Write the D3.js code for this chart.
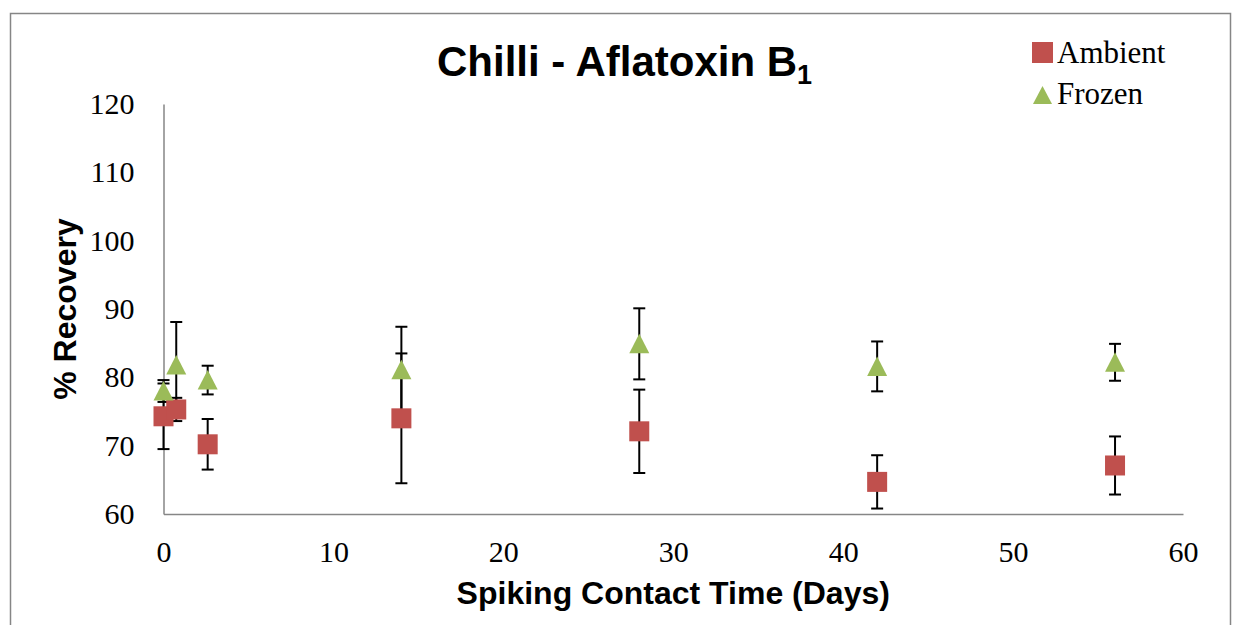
<!DOCTYPE html>
<html>
<head>
<meta charset="utf-8">
<script src="https://cdn.jsdelivr.net/npm/d3@7"></script>
<style>
  html, body { margin: 0; padding: 0; background: #fff; }
  svg { display: block; }
</style>
</head>
<body>
<script>
  const days = [0, 0.75, 2.6, 14, 28, 42, 56];
  const ambient = [74.3, 75.3, 70.2, 74.0, 72.1, 64.7, 67.1];
  const ambientErr = [4.8, 1.7, 3.7, 9.5, 6.1, 3.9, 4.25];
  const frozen = [78.0, 81.8, 79.6, 81.1, 84.9, 81.6, 82.2];
  const frozenErr = [1.6, 6.3, 2.1, 6.3, 5.2, 3.65, 2.7];
  const xTicks = [0, 10, 20, 30, 40, 50, 60];
  const yTicks = [60, 70, 80, 90, 100, 110, 120];

  const width = 1234;
  const height = 625;
  const serif = '"Liberation Serif", "Times New Roman", serif';
  const sans = '"Liberation Sans", Arial, sans-serif';
  const axisGrey = '#868686';

  const svg = d3.select('body')
    .append('svg')
    .attr('width', width)
    .attr('height', height);

  // outer chart frame
  svg.append('rect')
    .attr('x', 10.5)
    .attr('y', 13.5)
    .attr('width', 1220)
    .attr('height', 700)
    .attr('fill', 'none')
    .attr('stroke', axisGrey)
    .attr('stroke-width', 1.5);

  const x = d3.scaleLinear().domain([0, 60]).range([163.5, 1183]);
  const y = d3.scaleLinear().domain([60, 120]).range([514, 104]);

  const xAxis = svg.append('g')
    .attr('transform', `translate(0, ${y(60)})`)
    .call(d3.axisBottom(x).tickValues(xTicks).tickSize(0).tickSizeOuter(0));
  xAxis.select('.domain').attr('stroke', axisGrey).attr('stroke-width', 1.5);
  xAxis.selectAll('text')
    .attr('y', 48).attr('dy', null)
    .attr('font-family', serif).attr('font-size', 30).attr('fill', '#000');

  const yAxis = svg.append('g')
    .attr('transform', `translate(${x(0)}, 0)`)
    .call(d3.axisLeft(y).tickValues(yTicks).tickSize(0).tickSizeOuter(0));
  yAxis.select('.domain').attr('stroke', axisGrey).attr('stroke-width', 1.5);
  yAxis.selectAll('text')
    .attr('x', -29)
    .attr('font-family', serif).attr('font-size', 30).attr('fill', '#000');

  // error bars
  function errorBars(vals, errs) {
    const g = svg.append('g').attr('stroke', '#000').attr('stroke-width', 2);
    days.forEach((d, i) => {
      const cx = x(d);
      const y0 = y(vals[i] - errs[i]);
      const y1 = y(vals[i] + errs[i]);
      g.append('line').attr('x1', cx).attr('x2', cx).attr('y1', y0).attr('y2', y1);
      g.append('line').attr('x1', cx - 6).attr('x2', cx + 6).attr('y1', y0).attr('y2', y0);
      g.append('line').attr('x1', cx - 6).attr('x2', cx + 6).attr('y1', y1).attr('y2', y1);
    });
  }
  errorBars(ambient, ambientErr);
  errorBars(frozen, frozenErr);

  const sq = 20;
  svg.append('g')
    .selectAll('rect')
    .data(ambient)
    .enter()
    .append('rect')
    .attr('x', (d, i) => x(days[i]) - sq / 2)
    .attr('y', d => y(d) - sq / 2)
    .attr('width', sq)
    .attr('height', sq)
    .attr('fill', '#c0504d');

  const tri = 'M0,-10L10,9.5L-10,9.5Z';
  svg.append('g')
    .selectAll('path')
    .data(frozen)
    .enter()
    .append('path')
    .attr('d', tri)
    .attr('transform', (d, i) => `translate(${x(days[i])}, ${y(d)})`)
    .attr('fill', '#9bbb59');

  // title
  const title = svg.append('text')
    .attr('x', 437)
    .attr('y', 76)
    .attr('font-family', sans)
    .attr('font-weight', 'bold')
    .attr('font-size', 42)
    .attr('fill', '#000');
  title.append('tspan').text('Chilli - Aflatoxin B');
  title.append('tspan').attr('font-size', 27).attr('dy', 8).text('1');

  // axis titles
  svg.append('text')
    .attr('x', (x(0) + x(60)) / 2)
    .attr('y', 604)
    .attr('text-anchor', 'middle')
    .attr('font-family', sans)
    .attr('font-weight', 'bold')
    .attr('font-size', 32)
    .text('Spiking Contact Time (Days)');

  svg.append('text')
    .attr('transform', `translate(76, ${(y(60) + y(120)) / 2}) rotate(-90)`)
    .attr('text-anchor', 'middle')
    .attr('font-family', sans)
    .attr('font-weight', 'bold')
    .attr('font-size', 32)
    .text('% Recovery');

  // legend
  const legend = svg.append('g').attr('font-family', serif).attr('font-size', 31);
  legend.append('rect')
    .attr('x', 1032).attr('y', 42).attr('width', 21).attr('height', 21)
    .attr('fill', '#c0504d');
  legend.append('text').attr('x', 1057).attr('y', 63).text('Ambient');
  legend.append('path')
    .attr('d', 'M1042.5,86L1052,104L1033,104Z')
    .attr('fill', '#9bbb59');
  legend.append('text').attr('x', 1057).attr('y', 104).text('Frozen');
</script>
</body>
</html>
